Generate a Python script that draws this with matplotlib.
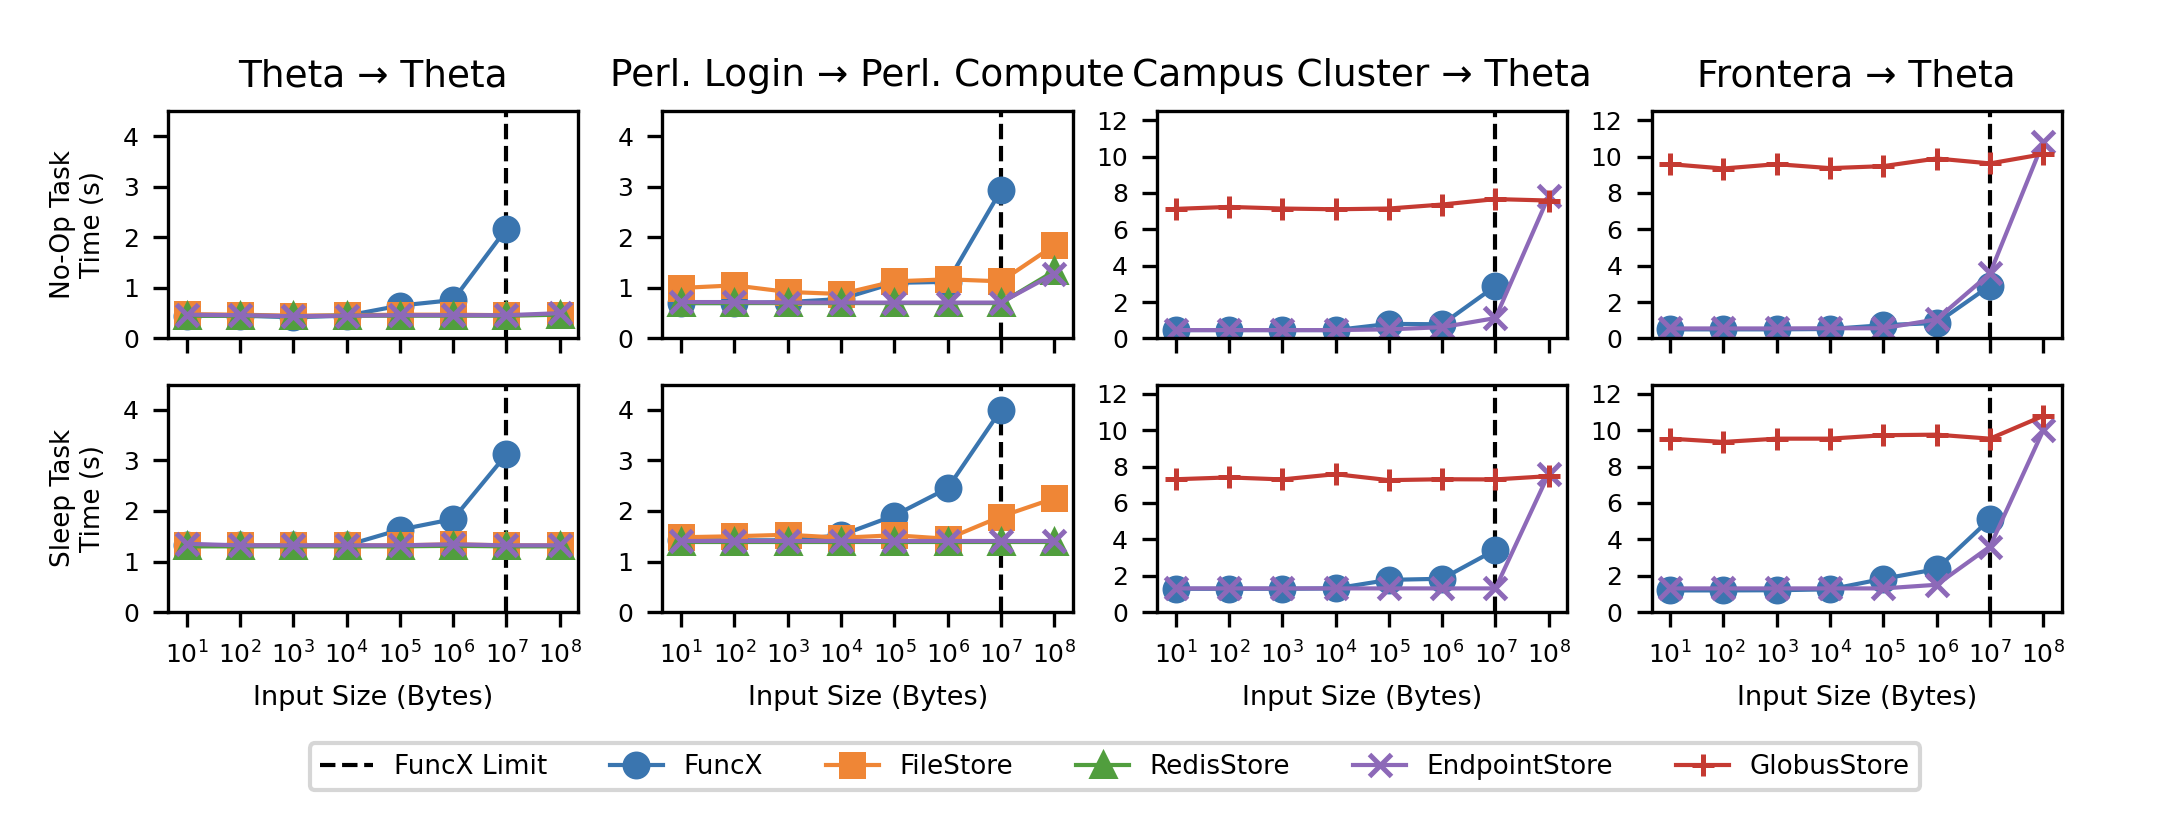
import matplotlib
matplotlib.use("Agg")
import matplotlib.pyplot as plt
from matplotlib.ticker import NullLocator, MultipleLocator

plt.rcParams['font.family'] = ['DejaVu Sans']

sizes = [1e1, 1e2, 1e3, 1e4, 1e5, 1e6, 1e7, 1e8]
funcx_limit = 1e7

titles = ["Theta \u2192 Theta", "Perl. Login \u2192 Perl. Compute",
          "Campus Cluster \u2192 Theta", "Frontera \u2192 Theta"]
row_labels = ["No-Op Task\nTime (s)", "Sleep Task\nTime (s)"]

# No-Op task times (s)
noop_funcx = [
    [0.45, 0.45, 0.42, 0.45, 0.65, 0.76, 2.17],
    [0.70, 0.70, 0.72, 0.78, 1.10, 1.12, 2.93],
    [0.46, 0.46, 0.46, 0.46, 0.80, 0.78, 2.88],
    [0.50, 0.50, 0.50, 0.52, 0.73, 0.85, 2.90],
]
noop_file = [
    [0.48, 0.47, 0.45, 0.46, 0.47, 0.47, 0.46, 0.47],
    [1.00, 1.05, 0.92, 0.88, 1.13, 1.17, 1.13, 1.84],
    None,
    None,
]
noop_redis = [
    [0.45, 0.45, 0.44, 0.45, 0.45, 0.45, 0.45, 0.47],
    [0.70, 0.70, 0.70, 0.70, 0.70, 0.70, 0.70, 1.33],
    None,
    None,
]
noop_endpoint = [
    [0.47, 0.46, 0.44, 0.45, 0.46, 0.46, 0.46, 0.50],
    [0.72, 0.72, 0.71, 0.71, 0.71, 0.71, 0.71, 1.28],
    [0.46, 0.46, 0.46, 0.46, 0.50, 0.62, 1.12, 7.82],
    [0.55, 0.55, 0.55, 0.56, 0.56, 1.05, 3.57, 10.80],
]
noop_globus = [
    None,
    None,
    [7.12, 7.23, 7.14, 7.10, 7.14, 7.36, 7.66, 7.58],
    [9.58, 9.34, 9.58, 9.36, 9.47, 9.89, 9.62, 10.13],
]

# Sleep task times (s)
sleep_funcx = [
    [1.33, 1.32, 1.32, 1.32, 1.63, 1.84, 3.12],
    [1.42, 1.42, 1.42, 1.52, 1.91, 2.45, 4.00],
    [1.28, 1.28, 1.28, 1.30, 1.77, 1.83, 3.42],
    [1.19, 1.19, 1.20, 1.25, 1.83, 2.36, 5.11],
]
sleep_file = [
    [1.33, 1.32, 1.32, 1.32, 1.32, 1.34, 1.32, 1.32],
    [1.48, 1.50, 1.53, 1.47, 1.52, 1.45, 1.89, 2.25],
    None,
    None,
]
sleep_redis = [
    [1.30, 1.30, 1.30, 1.30, 1.30, 1.31, 1.30, 1.30],
    [1.38, 1.38, 1.38, 1.38, 1.38, 1.38, 1.38, 1.38],
    None,
    None,
]
sleep_endpoint = [
    [1.35, 1.32, 1.32, 1.32, 1.32, 1.34, 1.32, 1.32],
    [1.40, 1.40, 1.40, 1.40, 1.40, 1.40, 1.40, 1.40],
    [1.30, 1.30, 1.30, 1.30, 1.30, 1.30, 1.30, 7.60],
    [1.30, 1.30, 1.30, 1.30, 1.30, 1.50, 3.60, 9.99],
]
sleep_globus = [
    None,
    None,
    [7.30, 7.40, 7.29, 7.58, 7.25, 7.30, 7.29, 7.47],
    [9.53, 9.35, 9.53, 9.53, 9.72, 9.75, 9.53, 10.78],
]

ylims = [4.5, 4.5, 12.5, 12.5]
ysteps = [1, 1, 2, 2]

series_style = [
    ("FuncX", "#3a75af", "o"),
    ("FileStore", "#ef8636", "s"),
    ("RedisStore", "#519e3e", "^"),
    ("EndpointStore", "#8d69b8", "x"),
    ("GlobusStore", "#c53a32", "+"),
]

fig, axes = plt.subplots(2, 4, figsize=(2162 / 300, 826 / 300), dpi=300)
fig.subplots_adjust(left=0.0777, right=0.9537, top=0.8656, bottom=0.259,
                    wspace=0.205, hspace=0.203)

rows = [
    [noop_funcx, noop_file, noop_redis, noop_endpoint, noop_globus],
    [sleep_funcx, sleep_file, sleep_redis, sleep_endpoint, sleep_globus],
]

for r in range(2):
    for c in range(4):
        ax = axes[r, c]
        ax.axvline(funcx_limit, color="black", ls="--", lw=1, label="FuncX Limit")
        for (name, color, marker), data in zip(series_style, rows[r]):
            vals = data[c]
            if vals is None:
                continue
            ax.plot(sizes[:len(vals)], vals, color=color, marker=marker,
                    markersize=5.5, lw=1, mew=1.2, label=name)
        ax.set_xscale("log")
        ax.set_xticks(sizes)
        ax.xaxis.set_minor_locator(NullLocator())
        ax.set_ylim(0, ylims[c])
        ax.yaxis.set_major_locator(MultipleLocator(ysteps[c]))
        ax.tick_params(labelsize=6)
        if r == 0:
            ax.set_title(titles[c], fontsize=9, pad=6)
            ax.tick_params(labelbottom=False)
        else:
            ax.set_xlabel("Input Size (Bytes)", fontsize=6.5)
        if c == 0:
            ax.set_ylabel(row_labels[r], fontsize=6.3)

# Legend
handles, labels = [], []
for ax in (axes[0, 1], axes[0, 3]):
    h, l = ax.get_legend_handles_labels()
    for hh, ll in zip(h, l):
        if ll not in labels:
            handles.append(hh)
            labels.append(ll)
order = ["FuncX Limit", "FuncX", "FileStore", "RedisStore", "EndpointStore", "GlobusStore"]
hd = dict(zip(labels, handles))
fig.legend([hd[k] for k in order], order, loc="upper center",
           bbox_to_anchor=(0.5158, 0.116), ncol=6, fontsize=6.3,
           columnspacing=2.4)

fig.savefig("out.png", dpi=300)
